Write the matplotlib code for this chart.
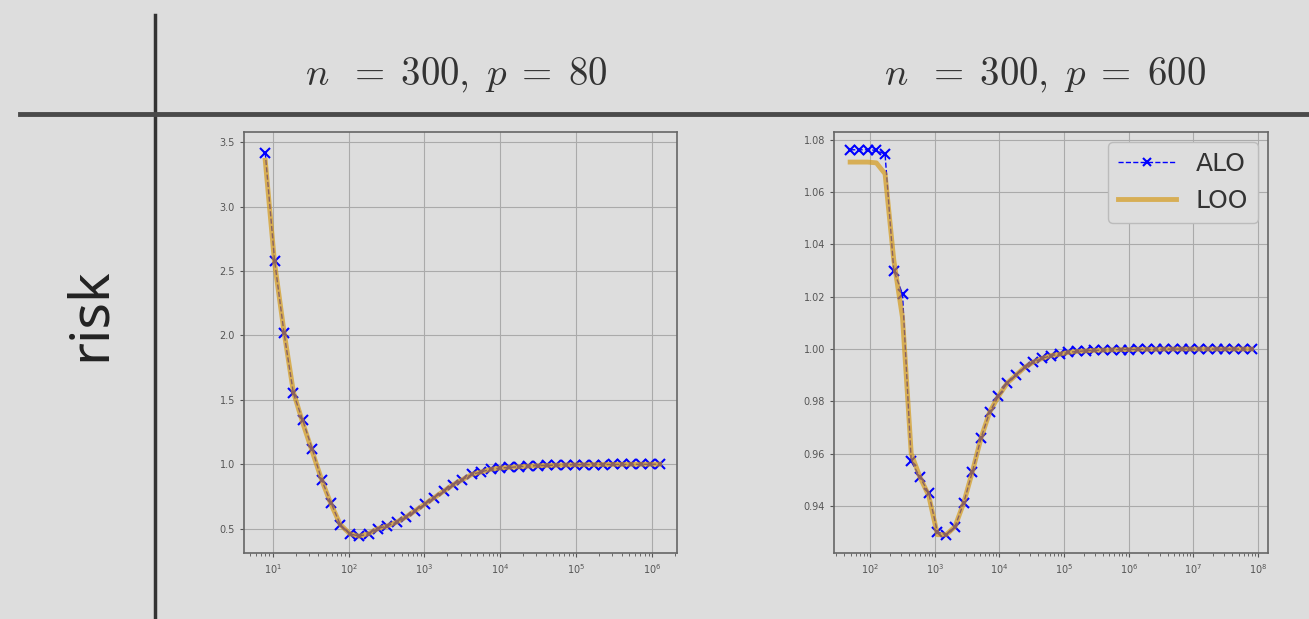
import numpy as np
import matplotlib
matplotlib.use('Agg')
import matplotlib.pyplot as plt

# lambda grids (log spaced, as in the original experiment)
lam_left = np.logspace(0.9, 6.1, 43)
lam_right = np.logspace(1.69, 7.9, 47)

alo_left = [3.42, 2.58, 2.02, 1.55, 1.34, 1.12, 0.88, 0.70, 0.53, 0.46, 0.44, 0.46,
            0.50, 0.52, 0.55, 0.59, 0.64, 0.69, 0.74, 0.79, 0.84, 0.88, 0.92, 0.94,
            0.96, 0.97, 0.975, 0.98, 0.985, 0.988, 0.99, 0.992, 0.994, 0.995, 0.996,
            0.997, 0.997, 0.998, 0.998, 0.999, 0.999, 0.999, 1.0]
loo_left = [3.36, 2.56, 2.03, 1.56, 1.32, 1.10, 0.88, 0.69, 0.53, 0.46, 0.44, 0.46,
            0.50, 0.52, 0.55, 0.59, 0.64, 0.69, 0.74, 0.79, 0.84, 0.88, 0.92, 0.94,
            0.96, 0.97, 0.975, 0.98, 0.985, 0.988, 0.99, 0.992, 0.994, 0.995, 0.996,
            0.997, 0.997, 0.998, 0.998, 0.999, 0.999, 0.999, 1.0]

alo_right = [1.0762, 1.0762, 1.0762, 1.0760, 1.0745, 1.030, 1.021, 0.957, 0.951, 0.945,
             0.930, 0.929, 0.932, 0.941, 0.953, 0.966, 0.976, 0.982, 0.987, 0.990,
             0.993, 0.995, 0.9964, 0.9975, 0.998, 0.9987, 0.9991, 0.9993, 0.9995,
             0.9996, 0.9997, 0.9998, 0.9998, 0.9999, 0.9999, 0.9999,
             1.0, 1.0, 1.0, 1.0, 1.0, 1.0, 1.0, 1.0, 1.0, 1.0, 1.0]
loo_right = [1.0715, 1.0715, 1.0715, 1.0712, 1.067, 1.034, 1.012, 0.960, 0.951, 0.944,
             0.929, 0.929, 0.932, 0.941, 0.953, 0.966, 0.976, 0.982, 0.987, 0.990,
             0.993, 0.995, 0.9964, 0.9975, 0.998, 0.9987, 0.9991, 0.9993, 0.9995,
             0.9996, 0.9997, 0.9998, 0.9998, 0.9999, 0.9999, 0.9999,
             1.0, 1.0, 1.0, 1.0, 1.0, 1.0, 1.0, 1.0, 1.0, 1.0, 1.0]

titles = [r'$n\;\;=\;300,\;p\;=\;80$', r'$n\;\;=\;300,\;p\;=\;600$']
left_yticks = [0.5, 1.0, 1.5, 2.0, 2.5, 3.0, 3.5]
right_yticks = [0.94, 0.96, 0.98, 1.00, 1.02, 1.04, 1.06, 1.08]

bg = '#dddddd'
plt.rcParams['mathtext.fontset'] = 'cm'

fig = plt.figure(figsize=(13.09, 6.19), dpi=100, facecolor=bg)

# table lines of the slide
fig.add_artist(plt.Line2D([155/1309, 155/1309], [0, 1 - 15/619], color='#333333', lw=2.5))
fig.add_artist(plt.Line2D([20/1309, 1], [1 - 114/619, 1 - 114/619], color='#4a4a4a', lw=3.5))

fig.text(90/1309, 1 - 314/619, 'risk', rotation=90, fontsize=40, color='#222222',
         ha='center', va='center', family='Noto Sans')
fig.text(456/1309, 1 - 75/619, titles[0], fontsize=28, color='#333333', ha='center', va='center')
fig.text(1045/1309, 1 - 75/619, titles[1], fontsize=28, color='#333333', ha='center', va='center')

ax1 = fig.add_axes([244/1309, 1 - 553/619, 433/1309, 421/619])
ax2 = fig.add_axes([834/1309, 1 - 553/619, 434/1309, 421/619])

panels = [(ax1, lam_left, alo_left, loo_left, left_yticks, (10**0.62, 10**6.33), (0.31, 3.58), '%.1f'),
          (ax2, lam_right, alo_right, loo_right, right_yticks, (10**1.44, 10**8.155), (0.922, 1.083), '%.2f')]

for ax, lam, alo, loo, yt, xl, yl, fmt in panels:
    ax.set_facecolor(bg)
    ax.plot(lam, alo, 'b--x', lw=1.0, ms=6.5, mew=1.5, label='ALO', zorder=3)
    ax.plot(lam, loo, color='#d4960c', lw=3.5, alpha=0.65, label='LOO', zorder=4)
    ax.set_xscale('log')
    ax.set_xlim(*xl)
    ax.set_ylim(*yl)
    ax.set_yticks(yt)
    ax.set_yticklabels([fmt % v for v in yt])
    ax.grid(True, color='#aaaaaa', lw=0.8)
    ax.tick_params(labelsize=7, colors='#555555', length=3)
    ax.tick_params(which='minor', length=2, colors='#555555')
    for s in ax.spines.values():
        s.set_color('#666666')
        s.set_linewidth(1.2)

leg = ax2.legend(loc='upper right', fontsize=18, facecolor=bg, edgecolor='#bbbbbb',
                 framealpha=1, handlelength=2.3, borderaxespad=0.4, markerscale=0.8)
for t in leg.get_texts():
    t.set_color('#333333')

fig.savefig('out.png', dpi=100, facecolor=bg)
